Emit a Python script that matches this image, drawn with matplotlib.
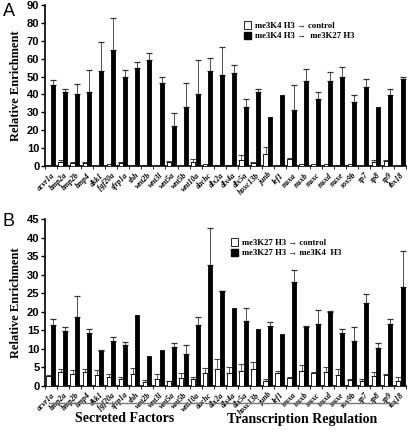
import matplotlib
matplotlib.use("Agg")
import matplotlib.pyplot as plt
import matplotlib.patches as mpatches
import numpy as np

genes = ["acvr1a", "bmp2a", "bmp2b", "bmp4", "dkk1", "fgf20a", "sfrp1a", "shh",
         "wnt2b", "wnt3l", "wnt5a", "wnt5b", "wnt10a", "dachc", "dlx2a", "dlx4a",
         "dlx5a", "hoxc13b", "junb", "lef1", "msxa", "msxb", "msxc", "msxd", "msxe",
         "sox9b", "sp7", "sp8", "sp9", "tbx18"]

# panel A: me3K4 H3 ChIP
a_ctrl = [0.75, 2.1, 1.5, 1.5, 0.2, 0.9, 1.7, 0.2, 0.75, 0.2, 2.4, 0.2, 2.1, 1.1, 0.75,
          0.75, 3.6, 1.7, 6.9, 0.2, 3.9, 1.1, 1.3, 1.3, 0.75, 0.9, 0.2, 2.1, 3.0, 0.2]
a_ctrl_err = [0, 1.1, 0.6, 0.6, 0, 0, 0.4, 0, 0, 0, 0.4, 0, 2.0, 0, 0,
              0, 2.4, 0.4, 4.0, 0, 0.4, 0, 0, 0, 0, 0, 0, 1.1, 0.2, 0]
a_k27 = [45, 41.6, 40.1, 41.4, 53, 64.7, 49.9, 54.9, 59, 46.3, 22.3, 33, 40.3, 53.3, 50.8,
         51.9, 33, 41.6, 27.2, 39.8, 31.3, 47.6, 37.5, 47.6, 49.7, 35.6, 44.3, 32.8, 39.6, 48.4]
a_k27_err = [3.2, 1.3, 6.0, 12.2, 16.2, 17.8, 3.5, 3.0, 4.2, 3.4, 7.1, 13.3, 19.1, 7.1, 15.8,
             4.5, 4.3, 1.3, 0, 0, 13.7, 6.6, 3.6, 4.7, 5.6, 4.2, 4.5, 0, 3.7, 1.3]

# panel B: me3K27 H3 ChIP
b_ctrl = [2.7, 3.6, 3.2, 3.6, 3.0, 2.3, 1.8, 3.2, 1.1, 1.8, 1.2, 2.0, 1.9, 3.3, 4.4,
          3.5, 3.9, 4.4, 1.4, 3.4, 2.0, 4.1, 3.4, 3.7, 2.9, 1.5, 1.2, 2.7, 3.0, 1.3]
b_ctrl_err = [0.2, 0.8, 1.0, 0.8, 1.2, 0.9, 0.6, 1.6, 0.5, 1.3, 0.2, 1.4, 0.4, 1.5, 2.7,
              1.5, 1.9, 2.0, 0.3, 0.6, 0.3, 1.5, 0.4, 1.3, 1.5, 0.2, 0.5, 0.9, 0.2, 1.0]
b_k4 = [16.5, 14.9, 18.5, 14.3, 9.3, 12.0, 11.1, 19.0, 7.9, 9.6, 10.5, 8.7, 16.3, 32.7, 25.5,
        20.9, 17.6, 15.3, 16.1, 13.9, 28.1, 16.0, 16.6, 19.8, 14.3, 12.1, 22.5, 10.2, 16.6, 26.8]
b_k4_err = [1.5, 0.9, 5.8, 0.9, 0.3, 1.3, 0.8, 0, 0, 0, 1.1, 2.2, 2.3, 9.9, 0.2,
            0, 3.3, 0, 1.0, 0, 3.1, 0.2, 4.0, 0.5, 1.0, 3.8, 2.3, 1.3, 1.4, 9.6]

groups = ["Secreted Factors", "Transcription Regulation"]

serif = "Liberation Serif"
sans = "Liberation Sans"

fig = plt.figure(figsize=(4.10, 4.33), dpi=100)
x = np.arange(len(genes))


def draw(ax, ctrl, ctrl_err, treat, treat_err, ymax, ystep, labels):
    ax.bar(x - 0.2, ctrl, width=0.37, color="white", edgecolor="black", linewidth=0.6, zorder=3)
    ax.bar(x + 0.17, treat, width=0.33, color="black", edgecolor="black", linewidth=0.6, zorder=3)
    ce = np.array(ctrl_err)
    te = np.array(treat_err)
    m = ce > 0
    ax.errorbar(x[m] - 0.2, np.array(ctrl)[m], yerr=[np.zeros(m.sum()), ce[m]], fmt="none",
                ecolor="#444444", elinewidth=0.6, capsize=2.5, capthick=0.8, zorder=2)
    m = te > 0
    ax.errorbar(x[m] + 0.17, np.array(treat)[m], yerr=[np.zeros(m.sum()), te[m]], fmt="none",
                ecolor="#333333", elinewidth=0.6, capsize=2.5, capthick=0.9, zorder=2)
    ax.set_xlim(-0.5, 29.5)
    ax.set_ylim(0, ymax)
    ax.spines["top"].set_visible(False)
    ax.spines["right"].set_visible(False)
    ax.spines["left"].set_linewidth(1.2)
    ax.spines["bottom"].set_linewidth(1.2)
    ax.set_yticks(np.arange(0, ymax + 1, ystep))
    ax.set_yticklabels([str(v) for v in np.arange(0, ymax + 1, ystep)],
                       fontfamily=sans, fontweight="bold", fontsize=8)
    ax.tick_params(axis="y", length=3, width=1, pad=1)
    ax.set_xticks(x)
    ax.set_xticklabels(genes, rotation=45, ha="right", rotation_mode="anchor",
                       fontfamily=serif, fontstyle="italic", fontweight="bold", fontsize=5.6)
    ax.tick_params(axis="x", length=0, pad=4)
    ax.set_xticks(np.arange(-0.5, 30, 1), minor=True)
    ax.tick_params(axis="x", which="minor", length=2, width=0.6)
    ax.set_ylabel("Relative Enrichment", fontfamily=serif, fontweight="bold", fontsize=9)
    ax.yaxis.set_label_coords(-0.065, 0.5)
    h1 = mpatches.Patch(facecolor="white", edgecolor="black", linewidth=0.6, label=labels[0])
    h2 = mpatches.Patch(facecolor="black", edgecolor="black", label=labels[1])
    ax.legend(handles=[h1, h2], frameon=False, loc="upper left", handlelength=0.8,
              handleheight=0.9, handletextpad=0.4, labelspacing=0.2, borderpad=0,
              prop={"family": serif, "weight": "bold", "size": 6.3},
              bbox_to_anchor=(labels[2], labels[3]), bbox_transform=fig.transFigure)


axA = fig.add_axes([45 / 410, 1 - 166 / 433, 361.5 / 410, 161 / 433])
draw(axA, a_ctrl, a_ctrl_err, a_k27, a_k27_err, 90, 10,
     ["me3K4 H3 \u2192 control", "me3K4 H3 \u2192  me3K27 H3", 240 / 410, 1 - 17 / 433])

axB = fig.add_axes([45 / 410, 1 - 385.7 / 433, 361.5 / 410, 166.4 / 433])
draw(axB, b_ctrl, b_ctrl_err, b_k4, b_k4_err, 45, 5,
     ["me3K27 H3 \u2192 control", "me3K27 H3 \u2192 me3K4  H3", 227 / 410, 1 - 234 / 433])

fig.text(3 / 410, 1 - 12 / 433, "A", fontfamily=sans, fontsize=13, va="center")
fig.text(3 / 410, 1 - 222 / 433, "B", fontfamily=sans, fontsize=13, va="center")

# group brackets under panel B
fig.add_artist(plt.Line2D([49 / 410, 201 / 410], [1 - 403 / 433] * 2, color="#777777", lw=1))
fig.add_artist(plt.Line2D([205 / 410, 398 / 410], [1 - 403 / 433] * 2, color="#777777", lw=1))
fig.text(125 / 410, 1 - 419 / 433, groups[0], ha="center", va="center",
         fontfamily=serif, fontweight="bold", fontsize=10)
fig.text(302 / 410, 1 - 419 / 433, groups[1], ha="center", va="center",
         fontfamily=serif, fontweight="bold", fontsize=10)

fig.savefig("out.png", dpi=100)
